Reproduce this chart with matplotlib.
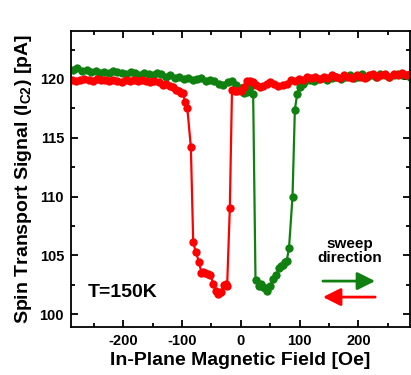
import matplotlib
matplotlib.use('Agg')
import matplotlib.pyplot as plt

plt.rcParams['font.family'] = ['Liberation Sans', 'DejaVu Sans']
plt.rcParams['font.weight'] = 'bold'
plt.rcParams['axes.unicode_minus'] = False
plt.rcParams['mathtext.fontset'] = 'custom'
plt.rcParams['mathtext.rm'] = 'Liberation Sans:bold'
plt.rcParams['mathtext.bf'] = 'Liberation Sans:bold'

# sweep up (negative -> positive field), green
field_up = [-285, -278, -270, -262, -255, -247, -240, -232, -225, -217, -210, -202,
            -195, -187, -180, -172, -165, -157, -150, -142, -135, -127, -120, -112,
            -105, -97, -90, -82, -75, -67, -60, -52, -45, -37, -30, -22, -15, -8,
            0, 5, 10, 15, 21, 25, 31, 35, 38, 42, 45, 50, 55, 60, 65, 68, 71, 75,
            78, 82, 88, 92, 96, 100, 105, 110, 117, 125, 132, 140, 147, 155, 162,
            170, 177, 185, 192, 200, 207, 215, 222, 230, 237, 245, 252, 260, 267,
            275, 282, 288]
signal_up = [120.8, 120.9, 120.7, 120.8, 120.6, 120.7, 120.5, 120.6, 120.5, 120.7,
             120.6, 120.5, 120.4, 120.6, 120.5, 120.3, 120.5, 120.4, 120.3, 120.5,
             120.4, 120.2, 120.3, 120.1, 120.2, 120.0, 120.1, 119.9, 120.0, 120.1,
             119.8, 119.9, 119.8, 119.6, 119.5, 119.7, 119.8, 119.5, 119.2, 118.8,
             118.9, 119.3, 118.75, 102.9, 102.4, 102.6, 102.3, 102.2, 102.0, 102.4,
             103.0, 103.3, 103.9, 104.1, 104.2, 104.4, 104.5, 105.6, 110.0, 117.4,
             118.75, 119.3, 119.6, 119.8, 119.9, 119.8, 120.0, 120.1, 119.9, 120.1,
             120.2, 120.0, 120.2, 120.3, 120.1, 120.2, 120.4, 120.2, 120.3, 120.2,
             120.4, 120.3, 120.2, 120.3, 120.4, 120.3, 120.3, 120.2]

# sweep down (positive -> negative field), red
field_down = [288, 281, 274, 267, 260, 253, 246, 239, 232, 225, 218, 211, 204, 197,
              190, 183, 176, 169, 162, 155, 148, 141, 134, 127, 120, 113, 106, 99,
              92, 85, 78, 71, 64, 57, 50, 44, 38, 32, 26, 20, 15, 10, 5, 0, -6, -10,
              -15, -18.7, -23.3, -26, -29, -33, -37, -39, -41.4, -47, -51.6, -55.6,
              -61, -64, -67, -71, -76.6, -81, -85, -91, -95, -98, -101, -105, -110,
              -115, -120, -127, -133, -140, -147, -154, -161, -168, -175, -182, -189,
              -196, -203, -210, -217, -224, -231, -238, -245, -252, -259, -266, -273,
              -280, -287]
signal_down = [120.4, 120.3, 120.5, 120.3, 120.4, 120.2, 120.4, 120.3, 120.2, 120.4,
               120.3, 120.1, 120.2, 120.3, 120.1, 120.2, 120.3, 120.1, 120.2, 120.3,
               120.1, 120.2, 120.0, 120.2, 120.1, 120.2, 119.9, 120.0, 119.8, 119.9,
               119.6, 119.5, 119.4, 119.6, 119.7, 119.6, 119.4, 119.3, 119.5, 119.7,
               119.8, 119.8, 119.3, 119.0, 119.0, 119.0, 119.1, 109.0, 102.4, 102.6,
               102.5, 101.9, 101.8, 101.7, 102.0, 102.6, 103.3, 103.4, 103.5, 103.6,
               103.5, 104.4, 105.3, 106.1, 114.2, 117.5, 118.0, 118.8, 118.8, 119.0,
               119.1, 119.3, 119.4, 119.6, 119.5, 119.7, 119.8, 119.7, 119.8, 119.9,
               119.8, 119.9, 119.8, 119.9, 119.7, 119.8, 119.9, 119.8, 119.9, 119.9,
               120.0, 119.8, 119.9, 120.0, 119.9, 119.8, 119.9]

green = '#108010'
red = '#ff0000'

fig = plt.figure(figsize=(4.11, 3.75), dpi=100)
ax = fig.add_axes([0.1727, 0.128, 0.825, 0.79])

ax.plot(field_up, signal_up, '-o', color=green, markersize=6, lw=1.6, markeredgewidth=0)
ax.plot(field_down, signal_down, '-o', color=red, markersize=6, lw=1.6, markeredgewidth=0)

ax.set_xlim(-289, 288)
ax.set_ylim(98.9, 124.1)
ax.set_xticks([-200, -100, 0, 100, 200])
ax.set_xticks([-250, -150, -50, 50, 150, 250], minor=True)
ax.set_yticks([100, 105, 110, 115, 120])
ax.set_yticks([102.5, 107.5, 112.5, 117.5, 122.5], minor=True)
ax.tick_params(which='both', direction='in', top=True, right=True, width=1.3,
               labelsize=10.5, pad=5)
ax.tick_params(which='major', length=5)
ax.tick_params(which='minor', length=3)
for s in ax.spines.values():
    s.set_linewidth(1.3)

ax.set_xlabel('In-Plane Magnetic Field [Oe]', fontsize=14, fontweight='bold', labelpad=3)
ax.set_ylabel(r'Spin Transport Signal (I$_{\mathbf{C2}}$) [pA]', fontsize=14,
              fontweight='bold', labelpad=4)

ax.text(0.05, 0.118, 'T=150K', transform=ax.transAxes, fontsize=14,
        fontweight='bold', va='center', ha='left')
ax.text(0.823, 0.257, 'sweep\ndirection', transform=ax.transAxes, fontsize=11,
        fontweight='bold', va='center', ha='center', linespacing=0.95)
ax.annotate('', xy=(0.897, 0.155), xytext=(0.743, 0.155), xycoords='axes fraction',
            arrowprops=dict(arrowstyle='-|>,head_length=0.9,head_width=0.45',
                            color=green, lw=2, mutation_scale=12, shrinkA=0, shrinkB=0))
ax.annotate('', xy=(0.743, 0.101), xytext=(0.897, 0.101), xycoords='axes fraction',
            arrowprops=dict(arrowstyle='-|>,head_length=0.9,head_width=0.45',
                            color=red, lw=2, mutation_scale=12, shrinkA=0, shrinkB=0))

fig.savefig('out.png', dpi=100)
